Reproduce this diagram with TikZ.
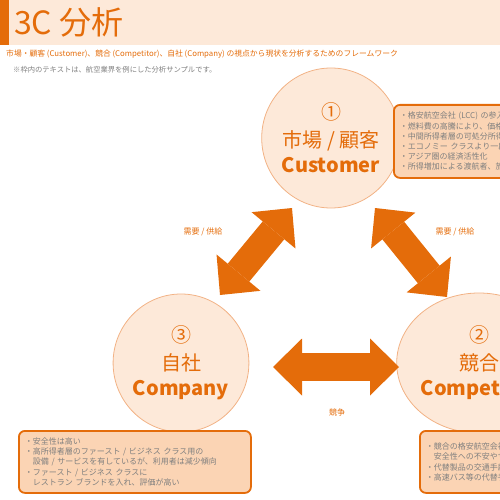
\documentclass[tikz,border=0pt]{standalone}
\usepackage{fontspec}
\setmainfont{Noto Sans CJK JP}
\usetikzlibrary{shapes.geometric,arrows.meta}
\definecolor{accent}{HTML}{E46C0A}
\definecolor{bandfill}{HTML}{FDE9D9}
\definecolor{circfill}{HTML}{FDE9D9}
\definecolor{circline}{HTML}{F2B285}
\definecolor{boxfill}{HTML}{FBD4B4}
\definecolor{boxtext}{HTML}{7F7F7F}

\begin{document}
\begin{tikzpicture}[x=1pt, y=-1pt,
  circ/.style={ellipse, draw=circline, fill=circfill, line width=0.8pt, minimum width=132pt, minimum height=140pt, inner sep=0pt, align=center, text=accent, font=\fontsize{20}{25}\selectfont},
  infobox/.style={draw=accent, line width=1.8pt, fill=boxfill, rounded corners=6pt, anchor=north west, align=left, text=boxtext, inner xsep=6pt, inner ysep=0pt, font=\fontsize{8}{10.2}\selectfont},
  bigarrow/.style={draw=accent, line width=28pt, {Triangle[length=29pt, width=57pt, line width=0pt]}-{Triangle[length=29pt, width=57pt, line width=0pt]}},
  linklabel/.style={text=accent, font=\fontsize{8}{9}\selectfont}]
  \useasboundingbox (0,0) rectangle (500,500);
  \clip (0,0) rectangle (500,500);

  % header
  \fill[bandfill] (0,0) rectangle (500,45);
  \fill[accent] (0,0) rectangle (9,45);
  \node[anchor=base west, inner sep=0pt, text=accent, font=\fontsize{32}{32}\selectfont] (title) at (14,35) {3C 分析};
  \node[anchor=base west, inner sep=0pt, text=accent, font=\fontsize{7.8}{8}\selectfont] (subtitle) at (6,57) {市場・顧客 (Customer)、競合 (Competitor)、自社 (Company) の視点から現状を分析するためのフレームワーク};
  \node[anchor=base west, inner sep=0pt, text=boxtext, font=\fontsize{7.3}{8}\selectfont] (note) at (13,73) {※枠内のテキストは、航空業界を例にした分析サンプルです。};

  % the three Cs
  \node[circ] (cust) at (331,138) {①\\[3pt]市場 / 顧客\\\textbf{Customer}};
  \node[circ, minimum width=126pt, minimum height=138pt] (comp) at (181,363) {③\\[3pt]自社\\\textbf{Company}};
  \node[circ] (rival) at (479,363) {②\\[3pt]競合\\\textbf{Competitor}};

  % notes
  \node[infobox, text width=200pt, minimum height=73pt] (custbox) at (393,104) {・格安航空会社 (LCC) の参入\\・燃料費の高騰により、価格競争が激化\\・中間所得者層の可処分所得の減少\\・エコノミー クラスより一段上のサービスへのニーズ\\・アジア圏の経済活性化\\・所得増加による渡航者、旅行者の増加};
  \node[infobox, text width=220pt, minimum height=62pt] (compbox) at (18,430) {・安全性は高い\\・高所得者層のファースト / ビジネス クラス用の\\　設備 / サービスを有しているが、利用者は減少傾向\\・ファースト / ビジネス クラスに\\　レストラン ブランドを入れ、評価が高い};
  \node[infobox, text width=200pt, minimum height=62pt] (rivalbox) at (419,430) {・競合の格安航空会社は価格が安いが、\\　安全性への不安やサービス面で劣る\\・代替製品の交通手段として新幹線\\・高速バス等の代替手段も存在};

  % arrows
  \coordinate (cust-comp) at (292,208);
  \coordinate (comp-cust) at (220,295);
  \coordinate (cust-rival) at (375,208);
  \coordinate (rival-cust) at (447,297);
  \coordinate (comp-rival) at (273,367);
  \coordinate (rival-comp) at (399,367);
  \draw[bigarrow] (comp-cust) -- (cust-comp);
  \draw[bigarrow] (cust-rival) -- (rival-cust);
  \draw[bigarrow] (comp-rival) -- (rival-comp);

  \node[linklabel] (demand1) at (203,232) {需要 / 供給};
  \node[linklabel] (demand2) at (455,232) {需要 / 供給};
  \node[linklabel] (compete) at (337,412) {競争};
\end{tikzpicture}
\end{document}
